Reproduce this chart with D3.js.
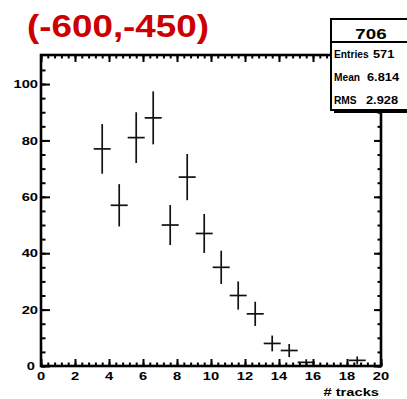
<!DOCTYPE html>
<html><head><meta charset="utf-8">
<script src="https://cdn.jsdelivr.net/npm/d3@7"></script>
<style>body{margin:0;background:#fff;overflow:hidden}svg{display:block}</style>
</head><body>
<script>
// ---- data ----
const binCenters = [3.6, 4.6, 5.6, 6.6, 7.6, 8.6, 9.6, 10.6, 11.6, 12.6, 13.6, 14.6, 15.6, 18.6];
const counts     = [77, 57, 81, 88, 50, 67, 47, 35, 25, 18.5, 8, 5.5, 1.3, 2];
const errors     = [8.8, 7.5, 9, 9.4, 7.1, 8.2, 6.9, 5.9, 5, 4.3, 2.8, 2.3, 1.1, 1.4];
const xTicks = [0, 2, 4, 6, 8, 10, 12, 14, 16, 18, 20];
const yTicks = [0, 20, 40, 60, 80, 100];
const titleText = "(-600,-450)";
const xLabel = "# tracks";
const statsTitle = "706";
const statsNames = ["Entries", "Mean", "RMS"];
const statsValues = ["571", "6.814", "2.928"];

const W = 407, H = 399;
const L = 41, R = 381, T = 55, B = 366;
const FONT = "'Liberation Sans', Arial, Helvetica, sans-serif";
const SX = 1.28;

const svg = d3.select("body").append("svg").attr("width", W).attr("height", H);
svg.append("rect").attr("width", W).attr("height", H).attr("fill", "#fff");

const x = d3.scaleLinear().domain([0, 20]).range([L, R]);
const y = d3.scaleLinear().domain([0, 110.3]).range([B, T]);

function label(parent, px, py, s, size, anchor, sx) {
  const g = parent.append("g").attr("transform", `translate(${px},${py}) scale(${sx},1)`);
  return g.append("text").attr("text-anchor", anchor).attr("font-family", FONT)
    .attr("font-weight", "bold").attr("font-size", size).attr("fill", "#000").text(s);
}

// data points (crosses)
const pts = svg.append("g").attr("stroke", "#111").attr("stroke-width", 1.7);
binCenters.forEach((c, i) => {
  pts.append("line").attr("x1", x(c - 0.5)).attr("x2", x(c + 0.5))
    .attr("y1", y(counts[i])).attr("y2", y(counts[i]));
  pts.append("line").attr("x1", x(c)).attr("x2", x(c))
    .attr("y1", y(Math.max(0, counts[i] - errors[i]))).attr("y2", y(counts[i] + errors[i]));
});

// axes via d3
const xMinor = d3.range(0, 20.001, 0.4);
const yMinor = d3.range(0, 110, 5);
function styleAxis(g) {
  g.select(".domain").remove();
  g.selectAll("line").attr("stroke", "#000").attr("stroke-width", 2);
  g.selectAll("text").remove();
}
// bottom (ticks inward = upward)
svg.append("g").attr("transform", `translate(0,${B})`)
  .call(d3.axisTop(x).tickValues(xMinor).tickSize(3.5).tickFormat("")).call(styleAxis);
svg.append("g").attr("transform", `translate(0,${B})`)
  .call(d3.axisTop(x).tickValues(xTicks).tickSize(7).tickFormat("")).call(styleAxis);
// top (ticks downward)
svg.append("g").attr("transform", `translate(0,${T})`)
  .call(d3.axisBottom(x).tickValues(xMinor).tickSize(3.5).tickFormat("")).call(styleAxis);
svg.append("g").attr("transform", `translate(0,${T})`)
  .call(d3.axisBottom(x).tickValues(xTicks).tickSize(7).tickFormat("")).call(styleAxis);
// left (ticks inward = rightward)
svg.append("g").attr("transform", `translate(${L},0)`)
  .call(d3.axisRight(y).tickValues(yMinor).tickSize(4.5).tickFormat("")).call(styleAxis);
svg.append("g").attr("transform", `translate(${L},0)`)
  .call(d3.axisRight(y).tickValues(yTicks).tickSize(9).tickFormat("")).call(styleAxis);
// right (ticks leftward)
svg.append("g").attr("transform", `translate(${R},0)`)
  .call(d3.axisLeft(y).tickValues(yMinor).tickSize(3.5).tickFormat("")).call(styleAxis);
svg.append("g").attr("transform", `translate(${R},0)`)
  .call(d3.axisLeft(y).tickValues(yTicks).tickSize(7).tickFormat("")).call(styleAxis);

// frame
svg.append("rect").attr("x", L).attr("y", T).attr("width", R - L).attr("height", B - T)
  .attr("fill", "none").attr("stroke", "#000").attr("stroke-width", 2.6);

// tick labels
xTicks.forEach(v => label(svg, x(v), 380, String(v), 11.5, "middle", SX));
yTicks.forEach(v => label(svg, v === 0 ? 35 : 38, y(v) + 4.2, String(v), 11.5, "end", SX));
label(svg, 379, 396, xLabel, 11.5, "end", SX);

// title
svg.append("text").attr("x", 27).attr("y", 37).attr("font-family", FONT)
  .attr("font-weight", "bold").attr("font-size", 32).attr("fill", "#cc0000")
  .attr("textLength", 182).attr("lengthAdjust", "spacingAndGlyphs").text(titleText);

// stats box
const bx = 331, by = 19, bw = 90, bh = 91;
svg.append("rect").attr("x", bx + 3).attr("y", by + 3).attr("width", bw).attr("height", bh).attr("fill", "#000");
svg.append("rect").attr("x", bx).attr("y", by).attr("width", bw).attr("height", bh)
  .attr("fill", "#fff").attr("stroke", "#000").attr("stroke-width", 2);
svg.append("line").attr("x1", bx).attr("x2", bx + bw).attr("y1", 42).attr("y2", 42)
  .attr("stroke", "#000").attr("stroke-width", 2);
label(svg, 371, 39, statsTitle, 15, "middle", 1.25);
const rowY = [58, 81, 104];
const valX = [373, 367, 366];
statsNames.forEach((n, i) => {
  label(svg, 334, rowY[i], n, 10, "start", 1.02);
  label(svg, valX[i], rowY[i], statsValues[i], 10.5, "start", 1.22);
});
</script>
</body></html>
